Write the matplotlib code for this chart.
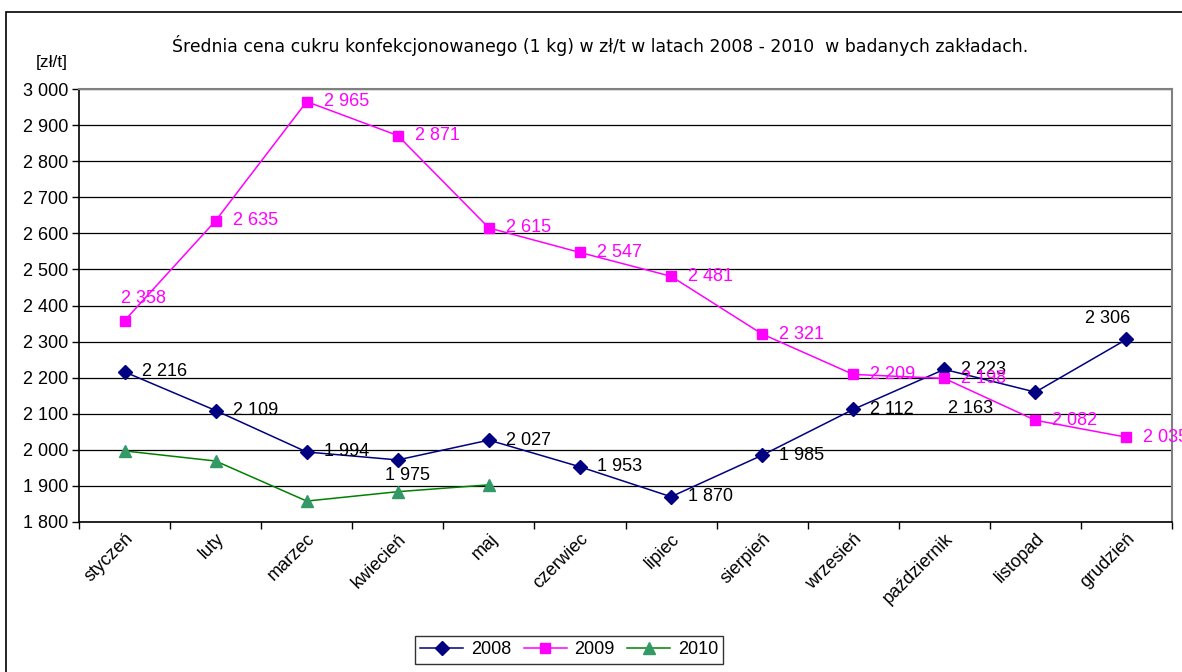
import matplotlib
matplotlib.use("Agg")
import matplotlib.pyplot as plt
from matplotlib.patches import Rectangle

months = ["styczeń", "luty", "marzec", "kwiecień", "maj", "czerwiec", "lipiec",
          "sierpień", "wrzesień", "październik", "listopad", "grudzień"]
v2008 = [2216, 2109, 1994, 1975, 2027, 1953, 1870, 1985, 2112, 2223, 2163, 2306]
v2009 = [2358, 2635, 2965, 2871, 2615, 2547, 2481, 2321, 2209, 2198, 2082, 2035]
v2010 = [1997, 1969, 1858, 1884, 1903]
# plotted y of 2008 points differ slightly from labels in the source (Excel)
p2008 = [2216, 2109, 1994, 1972, 2027, 1953, 1870, 1985, 2112, 2223, 2160, 2306]
yticks = list(range(1800, 3001, 100))

title = "Średnia cena cukru konfekcjonowanego (1 kg) w zł/t w latach 2008 - 2010  w badanych zakładach."

plt.rcParams['font.family'] = ['Liberation Sans', 'DejaVu Sans']

fig = plt.figure(figsize=(11.82, 6.72), dpi=100)
W, H = 1182, 672
ax = fig.add_axes([79 / W, 1 - 522 / H, (1172 - 79) / W, (522 - 89) / H])

# outer frame
fig.patches.append(Rectangle((6 / W, -0.1), 1.2, 1 - 12 / H + 0.1, transform=fig.transFigure,
                             fill=False, edgecolor='black', linewidth=1.2))

x = list(range(len(months)))
ax.plot(x, p2008, color='#000080', marker='D', markersize=7, linewidth=1.1,
        markerfacecolor='#000080', markeredgecolor='#000080', label='2008', zorder=4)
ax.plot(x, v2009, color='#FF00FF', marker='s', markersize=7, linewidth=1.1,
        markerfacecolor='#FF00FF', markeredgecolor='#FF00FF', label='2009', zorder=4)
ax.plot(x[:len(v2010)], v2010, color='#008000', marker='^', markersize=9, linewidth=1.1,
        markerfacecolor='#339966', markeredgecolor='#339966', label='2010', zorder=4)

def fmt(v):
    return f"{v:,}".replace(",", " ")

off2008 = {3: (-13, -16), 10: (-87, -16), 11: (-41, 21)}
off2009 = {0: (-4, 22)}
for i, (pv, lv) in enumerate(zip(p2008, v2008)):
    dx, dy = off2008.get(i, (17, 0))
    ax.annotate(fmt(lv), (i, pv), xytext=(dx, dy), textcoords='offset pixels',
                ha='left', va='center', fontsize=13, color='black', zorder=5,
                annotation_clip=False)
for i, v in enumerate(v2009):
    dx, dy = off2009.get(i, (17, 0))
    ax.annotate(fmt(v), (i, v), xytext=(dx, dy), textcoords='offset pixels',
                ha='left', va='center', fontsize=13, color='#FF00FF', zorder=5,
                annotation_clip=False)

ax.set_xlim(-0.5, 11.5)
ax.set_ylim(1800, 3000)
ax.set_yticks(yticks)
ax.set_yticklabels([fmt(v) for v in yticks], fontsize=13)
ax.yaxis.grid(True, color='black', linewidth=0.9)
ax.set_axisbelow(True)

ax.set_xticks([i + 0.5 for i in range(-1, 12)])
ax.set_xticklabels([])
ax.set_xticks(x, minor=True)
ax.set_xticklabels(months, minor=True, rotation=45, ha='right', va='top',
                   rotation_mode='anchor', fontsize=13)
ax.tick_params(axis='x', which='minor', length=0, pad=6)
ax.tick_params(axis='x', which='major', length=5, direction='out', width=1)
ax.tick_params(axis='y', length=5, direction='out', width=1, pad=3)

for s in ['top', 'right']:
    ax.spines[s].set_color('#808080')
    ax.spines[s].set_linewidth(1.5)
for s in ['left', 'bottom']:
    ax.spines[s].set_color('black')
    ax.spines[s].set_linewidth(1.2)

fig.text(600 / W, 1 - 46 / H, title, ha='center', va='center', fontsize=12.4,
         family=['DejaVu Sans'])
fig.text(52 / W, 1 - 62 / H, "[zł/t]", ha='center', va='center', fontsize=12.5)

leg = fig.legend(loc='upper center', bbox_to_anchor=(569 / W, 1 - 636 / H), ncol=3,
                 frameon=True, fancybox=False, edgecolor='black', fontsize=13,
                 handlelength=2.4, handletextpad=0.4, columnspacing=0.7,
                 borderpad=0.3, borderaxespad=0)
leg.get_frame().set_linewidth(1.0)

fig.savefig("out.png", dpi=100)
